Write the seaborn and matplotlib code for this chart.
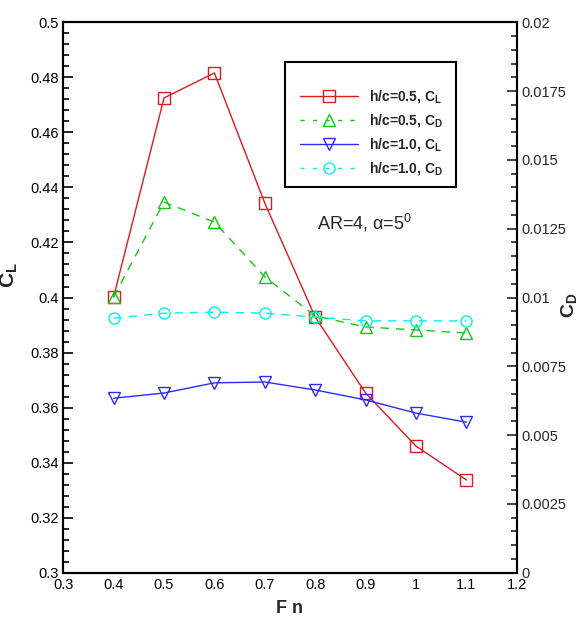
import matplotlib
matplotlib.use("Agg")
import matplotlib.pyplot as plt
from matplotlib.ticker import MultipleLocator, AutoMinorLocator, FuncFormatter
from matplotlib.lines import Line2D
from matplotlib.patches import Rectangle
import seaborn as sns

sns.set_theme(style="white")
plt.rcParams['font.family'] = ['Liberation Sans', 'DejaVu Sans']
plt.rcParams['mathtext.fontset'] = 'custom'
plt.rcParams['mathtext.rm'] = 'Liberation Sans'
plt.rcParams['mathtext.it'] = 'Liberation Sans'
plt.rcParams['mathtext.bf'] = 'Liberation Sans:bold'

fn = [0.4, 0.5, 0.6, 0.7, 0.8, 0.9, 1.0, 1.1]
cl_h05 = [0.4002, 0.4725, 0.4816, 0.4343, 0.3929, 0.3653, 0.3460, 0.3337]
cd_h05 = [0.01002, 0.01347, 0.01274, 0.01075, 0.00933, 0.00893, 0.00882, 0.00871]
cl_h10 = [0.3634, 0.3653, 0.3690, 0.3693, 0.3664, 0.3628, 0.3580, 0.3547]
cd_h10 = [0.00925, 0.00943, 0.00947, 0.00943, 0.00929, 0.00915, 0.00915, 0.00915]
labels = ["h/c=0.5, C$_\\mathregular{L}$", "h/c=0.5, C$_\\mathregular{D}$",
          "h/c=1.0, C$_\\mathregular{L}$", "h/c=1.0, C$_\\mathregular{D}$"]

fig = plt.figure(figsize=(5.8, 6.23), dpi=100)
ax = fig.add_axes([0.109, 0.0807, 0.782, 0.8835])
ax2 = ax.twinx()

mk = dict(markersize=8, markerfacecolor='none', markeredgewidth=1.0, linewidth=1.0)
sns.lineplot(x=fn, y=cl_h05, ax=ax, color='#e0191e', marker='s', markeredgecolor='#e0191e', **mk)
sns.lineplot(x=fn, y=cl_h10, ax=ax, color='#2b2bff', marker='v', markeredgecolor='#2b2bff', **mk)
sns.lineplot(x=fn, y=cd_h05, ax=ax2, color='#13c713', marker='^', markeredgecolor='#13c713',
             linestyle=(0, (6, 5)), **mk)
sns.lineplot(x=fn, y=cd_h10, ax=ax2, color='#00f0f0', marker='o', markeredgecolor='#00f0f0',
             linestyle=(0, (6, 5)), **mk)

ax.set_xlim(0.3, 1.2)
ax.set_ylim(0.3, 0.5)
ax2.set_ylim(0.0, 0.02)

fmt = FuncFormatter(lambda v, p: ('%.4f' % v).rstrip('0').rstrip('.') if abs(v) > 1e-12 else '0')
ax.xaxis.set_major_locator(MultipleLocator(0.1))
ax.xaxis.set_minor_locator(AutoMinorLocator(5))
ax.yaxis.set_major_locator(MultipleLocator(0.02))
ax.yaxis.set_minor_locator(AutoMinorLocator(5))
ax2.yaxis.set_major_locator(MultipleLocator(0.0025))
ax2.yaxis.set_minor_locator(AutoMinorLocator(5))
for a in (ax.xaxis, ax.yaxis, ax2.yaxis):
    a.set_major_formatter(fmt)

ax.tick_params(axis='both', which='both', direction='in', colors='black', labelsize=10.5,
               top=False, right=False, width=1.2)
ax.tick_params(which='major', length=7)
ax.tick_params(which='minor', length=4)
ax.tick_params(axis='x', which='major', pad=4)
ax.tick_params(axis='y', which='major', pad=3)
ax2.tick_params(axis='y', which='both', direction='in', labelsize=10.5, width=1.2, pad=3)
ax2.tick_params(axis='y', which='major', length=7)
ax2.tick_params(axis='y', which='minor', length=4)

for a in (ax, ax2):
    for s in a.spines.values():
        s.set_color('black')
        s.set_linewidth(1.5)
    a.grid(False)

ax.set_xlabel("F n", fontsize=13, fontweight='bold')
ax.xaxis.set_label_coords(0.5, -0.05)
ax.set_ylabel("C$_\\mathregular{L}$", fontsize=15, fontweight='bold')
ax.yaxis.set_label_coords(-0.095, 0.541)
ax2.set_ylabel("C$_\\mathregular{D}$", fontsize=14, fontweight='bold', rotation=90)
ax2.yaxis.set_label_coords(1.094, 0.486)

handles = [
    Line2D([], [], color='#e0191e', marker='s', **mk),
    Line2D([], [], color='#13c713', marker='^', linestyle=(0, (3, 6)), **mk),
    Line2D([], [], color='#2b2bff', marker='v', **mk),
    Line2D([], [], color='#00f0f0', marker='o', linestyle=(0, (3, 6)), **mk),
]
leg = ax2.legend(handles, labels, loc='upper left', bbox_to_anchor=(0.5217, 0.88),
                 frameon=False, handlelength=4.2, borderpad=0,
                 labelspacing=0.5, handletextpad=0.8, borderaxespad=0,
                 prop={'weight': 'bold', 'size': 10})
ax2.add_patch(Rectangle((0.4887, 0.7008), 0.3768, 0.2271, transform=ax.transAxes,
                        fill=False, edgecolor='black', linewidth=1.5, zorder=5))

ax2.text(0.665, 0.635, "AR=4, $\\alpha$=5$^\\mathregular{0}$", transform=ax.transAxes,
         fontsize=13, ha='center', va='center')

fig.savefig("out.png", dpi=100)
